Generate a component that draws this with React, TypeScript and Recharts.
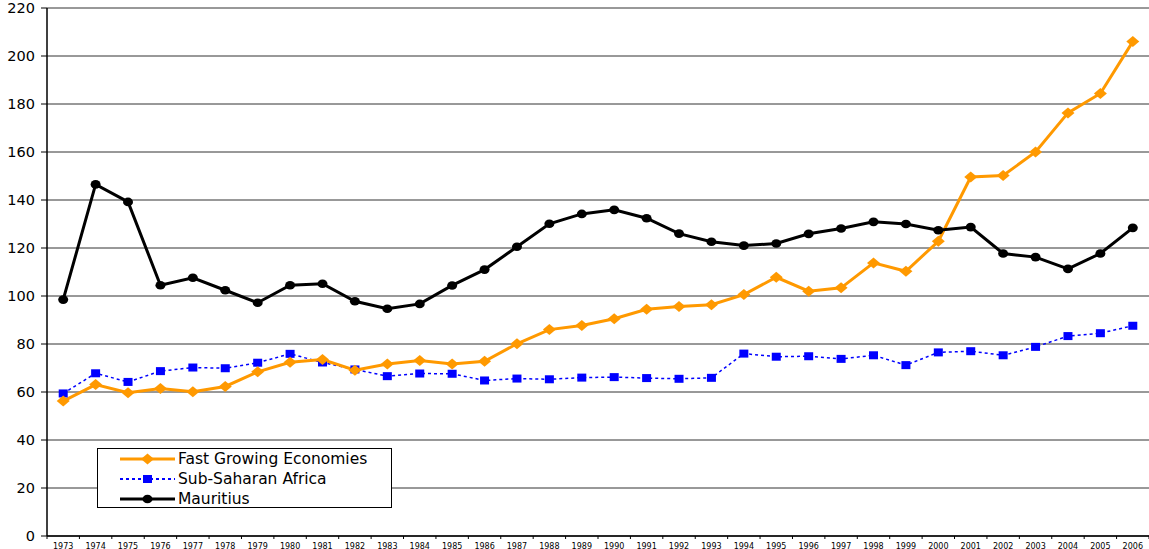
import React from 'react';
import { LineChart, Line, XAxis, YAxis, CartesianGrid, Legend } from 'recharts';

const years = [
  '1973', '1974', '1975', '1976', '1977', '1978', '1979', '1980', '1981', '1982', '1983', '1984',
  '1985', '1986', '1987', '1988', '1989', '1990', '1991', '1992', '1993', '1994', '1995', '1996',
  '1997', '1998', '1999', '2000', '2001', '2002', '2003', '2004', '2005', '2006',
];

const fastGrowing = [
  56.2, 63.1, 59.7, 61.5, 60.1, 62.3, 68.4, 72.4, 73.5, 69.1, 71.7, 73.1,
  71.7, 72.8, 80.1, 86.0, 87.7, 90.5, 94.5, 95.6, 96.4, 100.6, 107.8, 102.0,
  103.4, 113.8, 110.3, 122.8, 149.6, 150.2, 160.0, 176.3, 184.4, 206.0,
];

const subSaharan = [
  59.4, 67.8, 64.2, 68.7, 70.2, 69.9, 72.2, 75.9, 72.3, 69.4, 66.6, 67.7,
  67.6, 64.8, 65.6, 65.3, 66.0, 66.2, 65.8, 65.5, 65.9, 76.0, 74.7, 74.9,
  73.8, 75.3, 71.2, 76.5, 77.0, 75.3, 78.8, 83.3, 84.5, 87.6,
];

const mauritius = [
  98.5, 146.5, 139.2, 104.5, 107.6, 102.4, 97.2, 104.5, 105.1, 97.8, 94.7, 96.7,
  104.4, 111.0, 120.5, 130.1, 134.2, 135.9, 132.4, 126.0, 122.6, 121.0, 121.9, 125.9,
  128.1, 130.9, 130.0, 127.4, 128.7, 117.7, 116.2, 111.3, 117.7, 128.4,
];

const yTicks = [0, 20, 40, 60, 80, 100, 120, 140, 160, 180, 200, 220];

const seriesNames = ['Fast Growing Economies', 'Sub-Saharan Africa', 'Mauritius'];

const data = years.map((year, i) => ({
  year,
  fast: fastGrowing[i],
  ssa: subSaharan[i],
  mau: mauritius[i],
}));

const W = 1149;
const H = 549;
const Y_AXIS_W = 47;
const X_AXIS_H = 13;
const MARGIN = { top: 8, right: 0, bottom: 0, left: 0 };
const BAND = (W - Y_AXIS_W - MARGIN.left - MARGIN.right) / years.length;

const ORANGE = '#FF9900';
const BLUE = '#0000FF';
const BLACK = '#000000';
const FONT = '"DejaVu Sans", Arial, sans-serif';

const diamond = (cx: number, cy: number, key?: any) => (
  <polygon
    key={key}
    points={`${cx},${cy - 5.5} ${cx + 6.5},${cy} ${cx},${cy + 5.5} ${cx - 6.5},${cy}`}
    fill={ORANGE}
  />
);
const square = (cx: number, cy: number, key?: any) => (
  <rect key={key} x={cx - 4.5} y={cy - 4} width={9} height={8} fill={BLUE} />
);
const circle = (cx: number, cy: number, key?: any) => (
  <ellipse key={key} cx={cx} cy={cy} rx={5} ry={4.3} fill={BLACK} />
);

const XTick = (props: any) => {
  const { x, y, payload, index } = props;
  const last = index === years.length - 1;
  return (
    <g>
      <line x1={x - BAND / 2} y1={y} x2={x - BAND / 2} y2={y + 3} stroke="#000" strokeWidth={1} />
      {last && <line x1={x + BAND / 2} y1={y} x2={x + BAND / 2} y2={y + 3} stroke="#000" strokeWidth={1} />}
      <text x={x} y={y + 12.5} textAnchor="middle" fontSize={8} fontFamily={FONT} fill="#000">
        {payload.value}
      </text>
    </g>
  );
};

const LegendBox = () => {
  const rows = [
    { name: seriesNames[0], color: ORANGE, dash: undefined, width: 3, marker: diamond },
    { name: seriesNames[1], color: BLUE, dash: '3 3', width: 2, marker: square },
    { name: seriesNames[2], color: BLACK, dash: undefined, width: 3, marker: circle },
  ];
  return (
    <div
      style={{
        width: 295,
        height: 60,
        boxSizing: 'border-box',
        border: '1px solid #000',
        background: '#fff',
      }}
    >
      {rows.map((r) => (
        <div key={r.name} style={{ display: 'flex', alignItems: 'center', height: 20, marginLeft: 22 }}>
          <svg width={58} height={20} style={{ display: 'block' }}>
            <line x1={0} y1={10} x2={55} y2={10} stroke={r.color} strokeWidth={r.width} strokeDasharray={r.dash} />
            {r.marker(27.5, 10)}
          </svg>
          <span style={{ fontFamily: FONT, fontSize: 15.5, color: '#000', lineHeight: '20px' }}>{r.name}</span>
        </div>
      ))}
    </div>
  );
};

export default function App() {
  return (
    <div style={{ position: 'absolute', left: 0, top: 0, width: W, height: H, background: '#fff' }}>
      <LineChart width={W} height={H} data={data} margin={MARGIN}>
        <CartesianGrid vertical={false} stroke="#333" strokeWidth={1} />
        <XAxis
          dataKey="year"
          interval={0}
          height={X_AXIS_H}
          padding={{ left: BAND / 2, right: BAND / 2 }}
          tickLine={false}
          tickSize={0}
          tickMargin={0}
          axisLine={{ stroke: '#000', strokeWidth: 1.5 }}
          tick={<XTick />}
        />
        <YAxis
          width={Y_AXIS_W}
          domain={[0, 220]}
          ticks={yTicks}
          interval={0}
          tickSize={6}
          tickMargin={6}
          axisLine={{ stroke: '#000', strokeWidth: 1.5 }}
          tickLine={{ stroke: '#000' }}
          tick={{ fontSize: 14.5, fontFamily: FONT, fill: '#000' }}
        />
        <Legend
          layout="vertical"
          align="center"
          verticalAlign="middle"
          wrapperStyle={{ left: 97, top: 448, width: 295, height: 60 }}
          content={() => <LegendBox />}
        />
        <Line
          type="linear"
          dataKey="ssa"
          name={seriesNames[1]}
          stroke={BLUE}
          strokeWidth={1.5}
          strokeDasharray="3 3"
          isAnimationActive={false}
          dot={(p: any) => square(p.cx, p.cy, `s${p.index}`)}
          activeDot={false}
        />
        <Line
          type="linear"
          dataKey="fast"
          name={seriesNames[0]}
          stroke={ORANGE}
          strokeWidth={3}
          isAnimationActive={false}
          dot={(p: any) => diamond(p.cx, p.cy, `d${p.index}`)}
          activeDot={false}
        />
        <Line
          type="linear"
          dataKey="mau"
          name={seriesNames[2]}
          stroke={BLACK}
          strokeWidth={3}
          isAnimationActive={false}
          dot={(p: any) => circle(p.cx, p.cy, `c${p.index}`)}
          activeDot={false}
        />
      </LineChart>
    </div>
  );
}
